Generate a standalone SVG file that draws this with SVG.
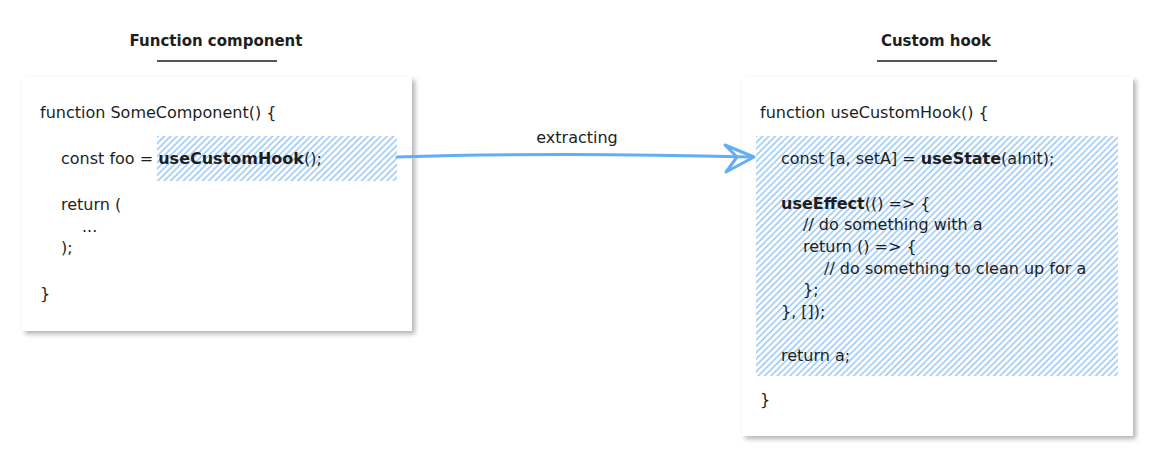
<svg xmlns="http://www.w3.org/2000/svg" width="1155" height="461" viewBox="0 0 1155 461">
<defs>
<filter id="sh" x="-10%" y="-10%" width="130%" height="130%">
<feGaussianBlur in="SourceAlpha" stdDeviation="2.5"/>
<feOffset dx="3" dy="3" result="b"/>
<feComponentTransfer><feFuncA type="linear" slope="0.3"/></feComponentTransfer>
<feMerge><feMergeNode/><feMergeNode in="SourceGraphic"/></feMerge>
</filter>
<pattern id="hatch" patternUnits="userSpaceOnUse" width="4.5" height="4.5" patternTransform="rotate(45)">
<line x1="1" y1="0" x2="1" y2="4.5" stroke="#7db9f5" stroke-width="1.2"/>
</pattern>
</defs>
<style>
text{font-family:"DejaVu Sans","Liberation Sans",sans-serif;font-size:16px;fill:#1e1e1e}
.t{font-weight:bold;font-size:15px;text-anchor:middle}
.b{font-weight:bold}
.card{fill:#ffffff;filter:url(#sh)}
.hatch{fill:url(#hatch)}
.ul{stroke:#1e1e1e;stroke-width:1.3}
.arr{fill:none;stroke:#63adf7;stroke-width:3;stroke-linecap:round;stroke-linejoin:round}
</style>
<rect width="1155" height="461" fill="#ffffff"/>
<g id="title-left">
<text class="t" x="216" y="46">Function component</text>
<line class="ul" x1="157" y1="61" x2="277" y2="61"/>
</g>
<g id="title-right">
<text class="t" x="936" y="46">Custom hook</text>
<line class="ul" x1="877" y1="61" x2="997" y2="61"/>
</g>
<g id="function-component">
<rect class="card" x="22" y="77" width="390" height="254"/>
<rect class="hatch" x="157" y="136" width="240" height="45"/>
<text x="40" y="118">function SomeComponent() {</text>
<text x="61" y="164">const foo = <tspan class="b">useCustomHook</tspan>();</text>
<text x="61" y="210">return (</text>
<text x="82" y="232">...</text>
<text x="61" y="253">);</text>
<text x="40" y="299">}</text>
</g>
<g id="custom-hook">
<rect class="card" x="742" y="77" width="391" height="359"/>
<rect class="hatch" x="756" y="136" width="362" height="240"/>
<text x="760" y="118">function useCustomHook() {</text>
<text x="781" y="164">const [a, setA] = <tspan class="b">useState</tspan>(aInit);</text>
<text x="781" y="209"><tspan class="b">useEffect</tspan>(() =&gt; {</text>
<text x="803" y="230">// do something with a</text>
<text x="803" y="252">return () =&gt; {</text>
<text x="824" y="274">// do something to clean up for a</text>
<text x="803" y="295">};</text>
<text x="781" y="317">}, []);</text>
<text x="781" y="361">return a;</text>
<text x="760" y="405">}</text>
</g>
<g id="connectors">
<path class="arr" d="M397,157 C520,153 640,154 750,157"/>
<path class="arr" d="M725,145 L754,157 L726,172 L737,157 Z"/>
<text x="577" y="143" text-anchor="middle">extracting</text>
</g>
</svg>
